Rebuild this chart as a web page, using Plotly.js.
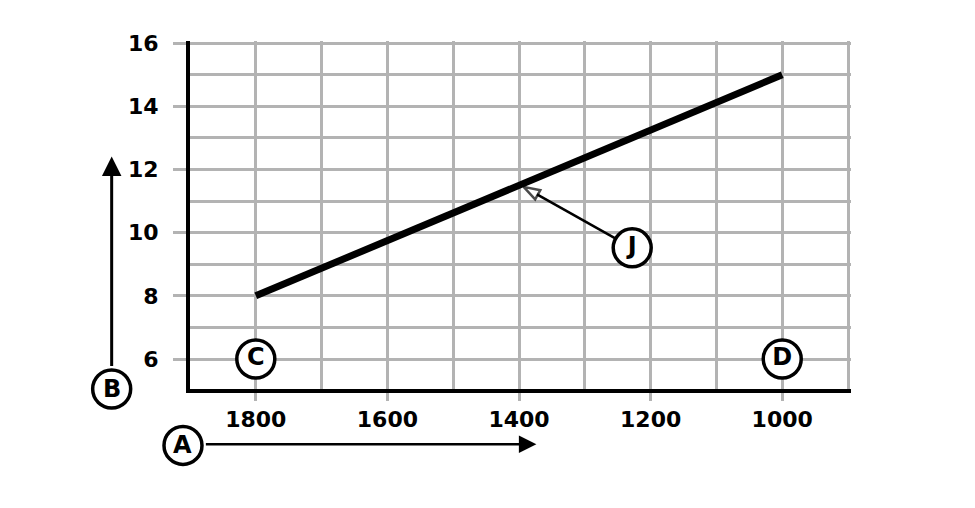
<!DOCTYPE html>
<html>
<head>
<meta charset="utf-8">
<script src="https://cdn.plot.ly/plotly-3.0.1.min.js"></script>
<style>
  body { margin: 0; background: #fff; }
  #graph { width: 975px; height: 508px; }
</style>
</head>
<body>
<div id="graph"></div>
<script>
// main line
var lineX = [1800, 1000];
var lineY = [8, 15];

// circled letters inside the plot
var labelText = ['C', 'D', 'J'];
var labelX = [1800, 1000, 1228];
var labelY = [6, 6, 9.52];

// pointer from J to the line
var pointerX = [1228, 1393];
var pointerY = [9.52, 11.45];

var xTicks = [1800, 1600, 1400, 1200, 1000];
var yTicks = [6, 8, 10, 12, 14, 16];

var gridGray = '#b3b3b3';
var tickFont = { family: 'DejaVu Sans', size: 22, weight: 'bold', color: '#000' };
var letterFont = { family: 'DejaVu Sans', size: 24, weight: 'bold', color: '#000' };

var line = {
  x: lineX, y: lineY,
  mode: 'lines', type: 'scatter',
  line: { color: '#000', width: 7 },
  hoverinfo: 'skip'
};

var pointer = {
  x: pointerX, y: pointerY,
  mode: 'lines+markers', type: 'scatter',
  line: { color: '#000', width: 2.5 },
  marker: {
    symbol: ['circle', 'arrow'],
    size: [0, 17],
    angleref: 'previous',
    color: '#fff',
    line: { color: '#000', width: 2.5 }
  },
  hoverinfo: 'skip'
};

var letters = {
  x: labelX, y: labelY, text: labelText,
  mode: 'markers+text', type: 'scatter',
  textposition: 'middle center',
  textfont: letterFont,
  marker: { symbol: 'circle', size: 38, color: '#fff', line: { color: '#000', width: 3.5 } },
  cliponaxis: false,
  hoverinfo: 'skip'
};

function ring(px, py) {
  return {
    type: 'circle', xref: 'paper', yref: 'paper',
    xsizemode: 'pixel', ysizemode: 'pixel',
    xanchor: px, yanchor: py,
    x0: -19, x1: 19, y0: -19, y1: 19,
    line: { color: '#000', width: 3.5 },
    fillcolor: '#fff'
  };
}

function ringText(px, py, t) {
  return { xref: 'paper', yref: 'paper', x: px, y: py, text: t, showarrow: false,
    xanchor: 'center', yanchor: 'middle', font: letterFont };
}

var layout = {
  width: 975, height: 508,
  margin: { l: 190, r: 124, t: 41, b: 119 },
  paper_bgcolor: '#fff', plot_bgcolor: '#fff',
  showlegend: false,
  xaxis: {
    range: [1900, 895.5], tickvals: xTicks,
    showgrid: true, gridcolor: gridGray, gridwidth: 3,
    minor: { dtick: 100, tick0: 900, showgrid: true, gridcolor: gridGray, gridwidth: 3, ticks: '' },
    ticks: 'outside', ticklen: 8, tickwidth: 3, tickcolor: gridGray,
    showline: true, linecolor: '#000', linewidth: 4,
    zeroline: false, tickfont: tickFont, ticklabelstandoff: 0
  },
  yaxis: {
    range: [5.05, 16.07], tickvals: yTicks,
    showgrid: true, gridcolor: gridGray, gridwidth: 3,
    minor: { dtick: 1, tick0: 5, showgrid: true, gridcolor: gridGray, gridwidth: 3, ticks: '' },
    ticks: 'outside', ticklen: 13, tickwidth: 3, tickcolor: gridGray,
    showline: true, linecolor: '#000', linewidth: 4,
    zeroline: false, tickfont: tickFont, ticklabelstandoff: 10
  },
  shapes: [ring(-0.0106, -0.162), ring(-0.1185, 0)],
  annotations: [
    ringText(-0.0106, -0.162, 'A'),
    ringText(-0.1185, 0, 'B'),
    { xref: 'paper', yref: 'paper', x: 0.524, y: -0.159, text: '', showarrow: true,
      ax: -352, ay: 0, startstandoff: 20, arrowhead: 2, arrowsize: 1.4, arrowwidth: 2.5, arrowcolor: '#000' },
    { xref: 'paper', yref: 'paper', x: -0.1185, y: 0.668, text: '', showarrow: true,
      ax: 0, ay: 231, startstandoff: 20, arrowhead: 2, arrowsize: 1.3, arrowwidth: 3, arrowcolor: '#000' }
  ]
};

Plotly.newPlot('graph', [line, pointer, letters], layout, { staticPlot: true, displayModeBar: false });
</script>
</body>
</html>
